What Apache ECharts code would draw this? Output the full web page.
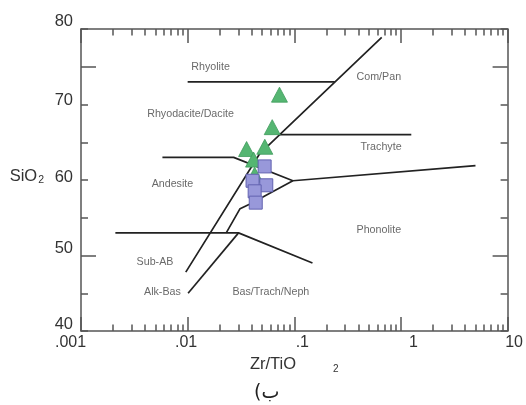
<!DOCTYPE html>
<html>
<head>
<meta charset="utf-8">
<script src="https://cdn.jsdelivr.net/npm/echarts@6/dist/echarts.min.js"></script>
<style>
  html, body { margin: 0; padding: 0; background: #fff; }
  #chart { width: 526px; height: 405px; }
</style>
</head>
<body>
<div id="chart"></div>
<script>
// ---- Data ----
const xTickValues = [0.001, 0.01, 0.1, 1, 10];
const xTickLabels = ['.001', '.01', '.1', '1', '10'];
const xMinorTicks = [0.002, 0.003, 0.004, 0.005, 0.006, 0.007, 0.008, 0.009,
                     0.02, 0.03, 0.04, 0.05, 0.06, 0.07, 0.08, 0.09,
                     0.2, 0.3, 0.4, 0.5, 0.6, 0.7, 0.8, 0.9,
                     2, 3, 4, 5, 6, 7, 8, 9];
const yTickValues = [40, 50, 60, 70, 80];
const yTickLabels = ['40', '50', '60', '70', '80'];
const yLongTicks = [50, 75];

// Field boundary lines [Zr/TiO2, SiO2]
const rhyoliteLine = [[0.01, 73], [0.24, 73]];
const subalkalineLine = [[0.0096, 47.8], [0.0475, 63.5], [0.66, 78.9]];
const trachyteLine = [[0.073, 66], [1.25, 66]];
const andesiteLine = [[0.0058, 63], [0.027, 63], [0.097, 59.9]];
const tranLine = [[0.023, 53], [0.031, 56.2], [0.038, 56.8], [0.097, 59.9]];
const phonoliteLine = [[0.097, 59.9], [5.0, 61.9]];
const basaltLine = [[0.0021, 53], [0.03, 53], [0.148, 49]];
const alkBasLine = [[0.0101, 45], [0.03, 53]];
const boundaryLines = [rhyoliteLine, subalkalineLine, trachyteLine, andesiteLine,
                       tranLine, phonoliteLine, basaltLine, alkBasLine];

// Field names
const fieldNames = ['Rhyolite', 'Rhyodacite/Dacite', 'Andesite', 'Com/Pan', 'Trachyte',
                    'Phonolite', 'Bas/Trach/Neph', 'Sub-AB', 'Alk-Bas'];
const fieldX = [0.0164, 0.01065, 0.0072, 0.62, 0.65, 0.62, 0.0603, 0.00494, 0.0058];
const fieldY = [75.0, 68.7, 59.5, 73.6, 64.4, 53.4, 45.2, 49.1, 45.2];

// Samples
const triangleX = [0.0726, 0.0621, 0.0529, 0.0357, 0.0415, 0.0425];
const triangleY = [71.3, 67.0, 64.4, 64.1, 62.7, 60.7];
const squareX = [0.0527, 0.0406, 0.0546, 0.0425, 0.0435];
const squareY = [61.8, 59.9, 59.3, 58.5, 57.0];

// ---- Style helpers ----
const FONT = 'Liberation Sans';
const AXIS_COLOR = '#555';
const xLabelShift = [-10.5, -1.5, 8, 12.5, 6.5];
const yLabelShift = [7, 7, 3, 4.5, 8];

const xRich = {};
xLabelShift.forEach((s, i) => {
  xRich['s' + i] = { fontSize: 16, fontFamily: FONT, color: '#333',
    padding: s < 0 ? [0, -2 * s, 0, 0] : [0, 0, 0, 2 * s] };
});
const yRich = {};
yLabelShift.forEach((s, i) => {
  yRich['s' + i] = { fontSize: 16.5, fontFamily: FONT, color: '#333', padding: [0, 0, 2 * s, 0] };
});
function idxOf(arr, v) {
  let best = 0;
  arr.forEach((a, i) => { if (Math.abs(Math.log(a) - Math.log(v)) < Math.abs(Math.log(arr[best]) - Math.log(v))) best = i; });
  return best;
}

const chart = echarts.init(document.getElementById('chart'), null, { renderer: 'canvas' });

const baseX = { type: 'log', logBase: 10, min: 0.001, max: 10, splitLine: { show: false } };
const baseY = { type: 'value', min: 40, max: 80, interval: 5, splitLine: { show: false } };

const option = {
  animation: false,
  backgroundColor: '#fff',
  title: {
    text: '(ب', left: 254, top: 384, padding: 0,
    textStyle: { fontSize: 19, fontWeight: 'normal', fontFamily: 'DejaVu Sans', color: '#222' }
  },
  grid: { left: 81, top: 29, right: 14, bottom: 74, containLabel: false },
  xAxis: [
    Object.assign({}, baseX, {
      position: 'bottom',
      axisLine: { show: true, lineStyle: { color: AXIS_COLOR, width: 1.5 } },
      axisTick: { show: true, inside: true, length: 14, customValues: xTickValues,
                  lineStyle: { color: AXIS_COLOR, width: 1.5 } },
      axisLabel: {
        show: true, margin: 4, customValues: xTickValues,
        formatter: function (v) { const i = idxOf(xTickValues, v); return '{s' + i + '|' + xTickLabels[i] + '}'; },
        rich: xRich
      },
      name: '{a|Zr/TiO}{b|2}',
      nameLocation: 'middle', nameGap: 21,
      nameTextStyle: {
        rich: {
          a: { fontSize: 16.5, fontFamily: FONT, color: '#333', lineHeight: 20 },
          b: { fontSize: 10, fontFamily: FONT, color: '#333', lineHeight: 10, verticalAlign: 'bottom', padding: [0, 0, 0, 37] }
        }
      }
    }),
    Object.assign({}, baseX, {
      position: 'bottom',
      axisLine: { show: false },
      axisTick: { show: true, inside: true, length: 6.5, customValues: xMinorTicks,
                  lineStyle: { color: AXIS_COLOR, width: 1.5 } },
      axisLabel: { show: false }
    }),
    Object.assign({}, baseX, {
      position: 'top',
      axisLine: { show: true, lineStyle: { color: AXIS_COLOR, width: 1.5 } },
      axisTick: { show: true, inside: true, length: 14, customValues: xTickValues,
                  lineStyle: { color: AXIS_COLOR, width: 1.5 } },
      axisLabel: { show: false }
    }),
    Object.assign({}, baseX, {
      position: 'top',
      axisLine: { show: false },
      axisTick: { show: true, inside: true, length: 6.5, customValues: xMinorTicks,
                  lineStyle: { color: AXIS_COLOR, width: 1.5 } },
      axisLabel: { show: false }
    })
  ],
  yAxis: [
    Object.assign({}, baseY, {
      position: 'left',
      axisLine: { show: true, lineStyle: { color: AXIS_COLOR, width: 1.5 } },
      axisTick: { show: true, inside: true, length: 7, lineStyle: { color: AXIS_COLOR, width: 1.5 } },
      axisLabel: {
        show: true, margin: 8, customValues: yTickValues,
        formatter: function (v) { const i = yTickValues.indexOf(v); return '{s' + i + '|' + yTickLabels[i] + '}'; },
        rich: yRich
      },
      name: '{a|SiO}{b|2}',
      nameLocation: 'middle', nameRotate: 0, nameGap: 37,
      nameTextStyle: {
        padding: [0, 0, 8, 0],
        rich: {
          a: { fontSize: 16.5, fontFamily: FONT, color: '#333', lineHeight: 20 },
          b: { fontSize: 10.5, fontFamily: FONT, color: '#333', lineHeight: 13, verticalAlign: 'bottom', padding: [0, 0, 0, 1] }
        }
      }
    }),
    Object.assign({}, baseY, {
      position: 'left',
      axisLine: { show: false },
      axisTick: { show: true, inside: true, length: 15, customValues: yLongTicks,
                  lineStyle: { color: AXIS_COLOR, width: 1.5 } },
      axisLabel: { show: false }
    }),
    Object.assign({}, baseY, {
      position: 'right',
      axisLine: { show: true, lineStyle: { color: AXIS_COLOR, width: 1.5 } },
      axisTick: { show: true, inside: true, length: 7, lineStyle: { color: AXIS_COLOR, width: 1.5 } },
      axisLabel: { show: false }
    }),
    Object.assign({}, baseY, {
      position: 'right',
      axisLine: { show: false },
      axisTick: { show: true, inside: true, length: 15, customValues: yLongTicks,
                  lineStyle: { color: AXIS_COLOR, width: 1.5 } },
      axisLabel: { show: false }
    })
  ],
  series: []
};

boundaryLines.forEach(function (pts) {
  option.series.push({
    type: 'line', xAxisIndex: 0, yAxisIndex: 0, data: pts,
    symbol: 'none', silent: true, z: 2,
    lineStyle: { color: '#222', width: 1.7 }
  });
});

option.series.push({
  type: 'scatter', xAxisIndex: 0, yAxisIndex: 0, silent: true, z: 1,
  symbolSize: 0,
  data: fieldNames.map((n, i) => ({ name: n, value: [fieldX[i], fieldY[i]] })),
  label: { show: true, position: 'inside', formatter: '{b}',
           fontSize: 10.7, fontFamily: FONT, color: '#444' }
});

option.series.push({
  type: 'scatter', xAxisIndex: 0, yAxisIndex: 0, silent: true, z: 3,
  symbol: 'triangle', symbolSize: [16, 15],
  data: triangleX.map((x, i) => [x, triangleY[i]]),
  itemStyle: { color: '#55b672', borderColor: '#3f9b5c', borderWidth: 0.8, opacity: 1 }
});

option.series.push({
  type: 'scatter', xAxisIndex: 0, yAxisIndex: 0, silent: true, z: 4,
  symbol: 'rect', symbolSize: 13,
  data: squareX.map((x, i) => [x, squareY[i]]),
  itemStyle: { color: '#9898da', borderColor: '#6262b0', borderWidth: 1, opacity: 1 }
});

chart.setOption(option);
</script>
</body>
</html>
